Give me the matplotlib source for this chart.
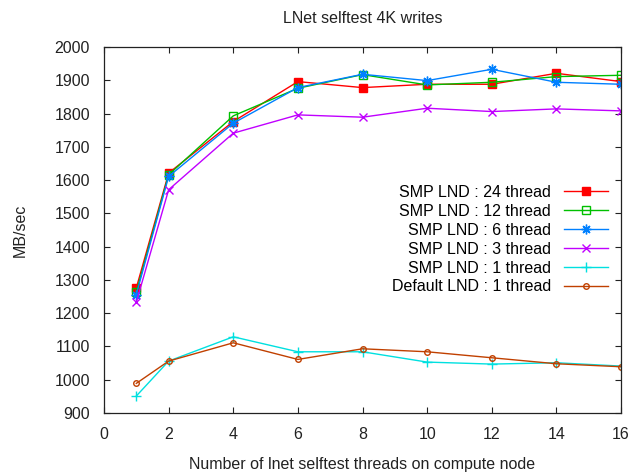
import matplotlib
matplotlib.use('Agg')
import matplotlib.pyplot as plt

plt.rcParams['font.family'] = ['Liberation Sans', 'DejaVu Sans']

threads = [1, 2, 4, 6, 8, 10, 12, 14, 16]

smp_24 = [1276, 1621, 1776, 1896, 1878, 1888, 1888, 1921, 1896]
smp_12 = [1264, 1616, 1793, 1876, 1917, 1886, 1894, 1911, 1915]
smp_6 = [1256, 1611, 1771, 1878, 1918, 1899, 1933, 1894, 1888]
smp_3 = [1233, 1571, 1741, 1796, 1789, 1816, 1806, 1814, 1808]
smp_1 = [951, 1056, 1129, 1084, 1084, 1053, 1047, 1051, 1041]
default_1 = [989, 1056, 1111, 1061, 1093, 1084, 1066, 1048, 1039]

x_ticks = list(range(0, 17, 2))
y_ticks = list(range(900, 2001, 100))

# label, values, colour, marker, size, filled
series = [
    ("SMP LND : 24 thread", smp_24, "#ff0000", "s", 5.5, True),
    ("SMP LND : 12 thread", smp_12, "#00c000", "s", 5.5, False),
    ("SMP LND : 6 thread", smp_6, "#0080ff", (8, 2, 0), 7, True),
    ("SMP LND : 3 thread", smp_3, "#c000ff", "x", 5.5, True),
    ("SMP LND : 1 thread", smp_1, "#00e0e0", "+", 7, True),
    ("Default LND : 1 thread", default_1, "#c04000", "o", 4, False),
]

FS = 11.5
TXT = '#222222'

fig = plt.figure(figsize=(6.39, 4.73), dpi=100)
ax = fig.add_axes([104 / 639, 60 / 473, 517 / 639, 366 / 473])

for label, vals, color, marker, size, filled in series:
    ax.plot(threads, vals, color=color, linewidth=1.0, marker=marker,
            markersize=size, markeredgewidth=1.0, markeredgecolor=color,
            markerfacecolor=color if filled else 'none', label=label)

ax.set_xlim(0, 16)
ax.set_ylim(900, 2000)
ax.set_xticks(x_ticks)
ax.set_yticks(y_ticks)
ax.tick_params(direction='in', length=4, width=0.8, top=True, right=True,
               labelsize=FS, colors=TXT)
ax.tick_params(axis='x', pad=10)
ax.tick_params(axis='y', pad=10)
for sp in ax.spines.values():
    sp.set_linewidth(0.9)
    sp.set_color(TXT)

ax.set_title("LNet selftest 4K writes", fontsize=FS, pad=17, color=TXT)
ax.set_xlabel("Number of lnet selftest threads on compute node", fontsize=FS,
              labelpad=11, color=TXT)
ax.set_ylabel("MB/sec", fontsize=FS, labelpad=19, color=TXT)

ax.legend(loc='center right', bbox_to_anchor=(0.997, 0.474), frameon=False,
          markerfirst=False, fontsize=FS, handlelength=2.8,
          handletextpad=0.8, labelspacing=0.25, borderaxespad=0.3)

fig.savefig("out.png", dpi=100)
